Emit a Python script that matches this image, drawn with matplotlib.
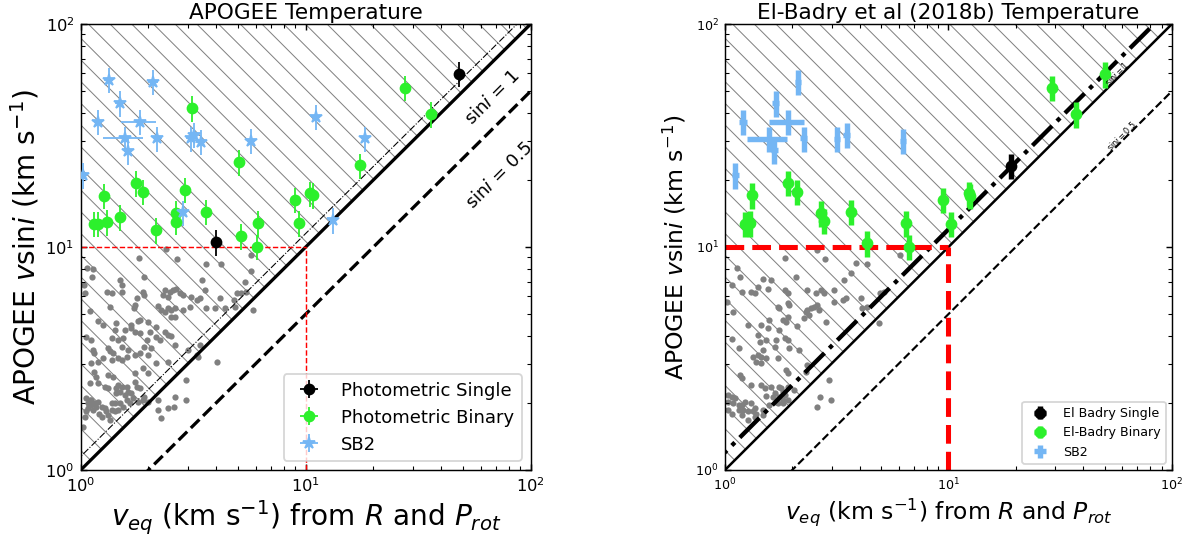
import numpy as np
import matplotlib
matplotlib.use("Agg")
import matplotlib.pyplot as plt
from matplotlib.collections import LineCollection

DPI = 130
HATCH_PX = 21.7   # spacing of the diagonal hatch lines, in pixels

# ---------------------------------------------
# Data

# APOGEE temperature panel: background sample (grey)
apo_bg_veq = [1.81, 1.07, 1.13, 1.12, 1.92, 3.62, 4.19, 5.74, 3.46, 5.36, 1.03, 1.49, 1.52, 1.31, 1.37,
              1.53, 1.04, 1.89, 1.92, 2.36, 2.49, 2.57, 2.66, 2.75, 2.85, 2.32, 2.44, 3.10, 3.27, 3.38,
              3.56, 4.15, 4.80, 4.97, 5.18, 5.45, 1.77, 1.35, 1.74, 1.73, 2.21, 2.28, 2.36, 2.44, 2.53,
              2.62, 2.85, 3.05, 3.62, 3.94, 4.37, 4.83, 5.83, 1.10, 1.83, 1.79, 1.99, 1.19, 1.44, 1.67,
              2.15, 2.53, 2.63, 1.26, 1.42, 1.57, 1.68, 1.74, 1.83, 2.03, 2.36, 2.44, 2.17, 1.96, 2.24,
              2.53, 1.37, 1.47, 1.54, 1.11, 1.06, 2.06, 2.62, 3.00, 3.38, 1.92, 1.52, 1.13, 1.15, 1.32,
              1.35, 1.39, 1.47, 1.52, 1.60, 1.74, 1.83, 1.99, 1.62, 1.37, 1.26, 1.11, 1.19, 3.27, 3.32,
              2.44, 2.17, 1.89, 1.74, 1.99, 4.05, 1.15, 1.17, 2.95, 1.32, 1.39, 1.47, 1.52, 1.60, 1.44,
              1.32, 1.28, 1.19, 1.10, 1.74, 1.77, 1.83, 1.62, 1.68, 1.57, 1.44, 1.49, 1.92, 1.89, 1.99,
              2.21, 2.62, 2.95, 1.65, 1.80, 1.06, 1.10, 1.11, 1.08, 1.11, 1.15, 1.19, 1.24, 1.28, 1.30,
              1.37, 1.42, 1.17, 1.08, 1.13, 1.21, 1.32, 1.24, 1.35, 1.04, 1.06, 1.47, 1.54, 1.02, 2.21,
              2.60, 2.27, 2.44, 1.60, 1.71, 1.49, 1.37, 1.42, 2.39, 2.68, 5.70]
apo_bg_vsini = [8.90, 8.02, 7.94, 7.36, 7.31, 8.39, 8.39, 7.83, 7.11, 6.99, 6.76, 7.11, 6.76, 6.31, 6.20,
                6.31, 6.20, 6.31, 6.09, 6.41, 6.31, 6.41, 6.46, 6.20, 6.09, 6.09, 5.95, 5.99, 5.78, 5.89,
                6.41, 5.89, 5.78, 6.24, 6.24, 6.31, 5.89, 5.40, 5.50, 5.31, 5.44, 5.22, 5.13, 5.31, 5.22,
                5.31, 5.22, 5.40, 5.31, 5.31, 5.31, 5.40, 5.22, 5.18, 4.71, 4.66, 4.62, 4.66, 4.55, 4.47,
                4.36, 4.84, 4.84, 4.47, 4.25, 4.25, 4.32, 4.17, 4.10, 4.17, 4.17, 4.03, 3.96, 3.83, 3.83,
                3.99, 3.89, 3.83, 3.89, 3.83, 3.96, 3.51, 3.64, 3.45, 3.64, 3.57, 3.57, 3.45, 3.34, 3.51,
                3.40, 3.34, 3.17, 3.11, 3.22, 3.28, 3.34, 3.28, 3.45, 3.11, 3.17, 3.01, 3.06, 3.28, 3.22,
                3.06, 3.01, 2.86, 2.71, 2.73, 3.04, 2.76, 2.62, 2.52, 2.67, 2.62, 2.40, 2.36, 2.36, 2.32,
                2.32, 2.36, 2.45, 2.45, 2.49, 2.36, 2.32, 2.24, 2.21, 2.17, 2.21, 2.24, 2.13, 2.06, 2.02,
                2.07, 2.13, 2.07, 1.99, 2.02, 2.10, 2.06, 2.07, 1.99, 1.96, 1.99, 2.02, 1.92, 1.89, 1.83,
                1.86, 1.83, 1.92, 1.89, 1.86, 1.79, 1.77, 1.73, 1.68, 1.73, 1.83, 1.86, 1.92, 1.56, 1.86,
                1.92, 1.71, 1.89, 2.06, 2.10, 1.99, 1.99, 1.99, 9.77, 8.81, 9.20]

# APOGEE temperature panel: photometric singles
apo_single_veq = [3.98, 48.2]
apo_single_vsini = [10.5, 59.7]
# APOGEE temperature panel: photometric binaries
apo_binary_veq = [3.12, 5.04, 1.76, 1.89, 1.27, 2.90, 1.15, 1.19, 1.31, 1.49, 2.15, 2.64, 2.64, 3.62,
                  5.17, 6.14, 6.08, 27.6, 36.2, 17.5, 9.0, 10.5, 10.8, 9.37]
apo_binary_vsini = [41.9, 24.0, 19.3, 17.7, 17.0, 18.1, 12.7, 12.7, 12.9, 13.6, 11.9, 14.2, 13.0, 14.4,
                    11.2, 12.8, 10.0, 51.8, 39.4, 23.2, 16.3, 17.4, 17.1, 12.8]
# APOGEE temperature panel: SB2
apo_sb2_veq = [1.02, 1.33, 2.10, 1.49, 1.19, 1.83, 1.58, 1.62, 2.19, 3.08, 3.19, 3.41, 5.73, 2.85,
               11.1, 18.4, 13.2]
apo_sb2_vsini = [21.0, 56.1, 55.1, 44.1, 36.5, 36.5, 30.7, 26.9, 30.7, 30.7, 31.8, 29.7, 30.0, 14.3,
                 38.4, 30.7, 13.2]
apo_sb2_veq_err = [0.05, 0.06, 0.1, 0.07, 0.05, 0.32, 0.32, 0.07, 0.1, 0.14, 0.15, 0.16, 0.25, 0.13,
                   0.5, 0.8, 0.6]

# El-Badry temperature panel: background sample (grey)
elb_bg_veq = [1.85, 1.13, 1.17, 1.07, 1.41, 2.08, 1.61, 1.48, 1.56, 1.31, 1.19, 1.36, 1.85, 1.91, 2.34,
              2.69, 2.55, 2.78, 3.08, 3.41, 3.65, 4.33, 3.84, 4.96, 5.13, 4.05, 4.30, 3.47, 3.08, 3.39,
              1.09, 1.02, 1.73, 1.75, 1.91, 1.94, 2.34, 2.30, 2.43, 2.51, 2.59, 2.64, 2.26, 2.38, 2.82,
              4.11, 4.87, 1.91, 1.88, 1.82, 1.58, 1.45, 1.27, 1.75, 1.56, 2.11, 1.85, 1.91, 1.69, 1.41,
              1.07, 1.53, 1.43, 1.67, 1.48, 1.41, 1.45, 1.34, 1.38, 1.45, 1.53, 1.15, 1.94, 2.15, 1.73,
              2.34, 2.30, 1.88, 1.91, 1.17, 1.19, 1.31, 1.45, 1.51, 1.61, 1.75, 1.78, 1.82, 1.91, 1.67,
              1.85, 1.53, 2.04, 2.92, 2.67, 2.99, 2.59, 1.03, 1.07, 1.11, 1.03, 1.09, 1.15, 1.19, 1.21,
              1.27, 1.34, 1.36, 1.48, 1.58, 1.75, 1.69, 1.82, 1.91, 1.64, 1.23, 1.31, 1.15, 1.03, 1.07,
              1.19, 1.36, 1.27, 1.38, 1.48, 1.73, 1.82, 2.59, 2.80, 6.08]
elb_bg_vsini = [8.90, 8.02, 7.36, 6.76, 6.64, 7.36, 7.11, 7.16, 6.46, 6.31, 6.31, 6.20, 6.41, 6.24, 6.41,
                6.41, 6.20, 6.20, 6.41, 7.11, 7.62, 8.39, 8.45, 6.24, 6.31, 5.89, 5.40, 5.89, 5.69, 5.78,
                5.13, 5.69, 5.40, 5.31, 5.59, 5.50, 5.22, 5.13, 5.31, 5.40, 5.50, 5.22, 4.79, 4.96, 4.62,
                5.31, 4.55, 4.87, 4.62, 4.71, 4.71, 4.47, 4.47, 4.25, 4.32, 4.40, 3.89, 3.83, 3.83, 4.03,
                3.85, 3.83, 3.76, 3.57, 3.45, 3.28, 3.22, 3.22, 3.06, 3.01, 3.17, 3.51, 3.51, 3.45, 3.17,
                2.96, 2.76, 2.81, 2.71, 2.67, 2.58, 2.40, 2.40, 2.32, 2.36, 2.36, 2.32, 2.24, 2.36, 2.21,
                2.17, 2.15, 2.28, 2.53, 2.13, 2.05, 1.92, 2.17, 2.13, 2.10, 2.02, 1.99, 1.96, 1.96, 1.86,
                1.83, 1.83, 1.89, 1.86, 1.96, 2.13, 2.02, 1.99, 2.06, 2.13, 2.02, 1.99, 1.86, 1.86, 1.79,
                1.77, 1.73, 1.68, 1.79, 1.77, 1.99, 2.06, 9.70, 8.81, 9.20]

# El-Badry temperature panel: singles
elb_single_veq = [19.0]
elb_single_vsini = [23.1]
# El-Badry temperature panel: binaries
elb_binary_veq = [1.91, 2.10, 1.32, 1.23, 1.30, 2.69, 2.76, 3.68, 4.30, 6.46, 6.69, 9.47, 10.3, 12.3,
                  12.5, 29.0, 37.4, 50.4]
elb_binary_vsini = [19.4, 17.7, 17.1, 12.7, 12.8, 14.2, 13.1, 14.4, 10.4, 12.8, 10.0, 16.3, 12.7, 17.4,
                    17.0, 51.8, 39.4, 59.5]
# El-Badry temperature panel: SB2
elb_sb2_veq = [1.11, 1.20, 1.69, 2.12, 1.91, 1.57, 1.66, 2.25, 3.18, 3.50, 6.29]
elb_sb2_vsini = [21.0, 36.5, 44.1, 55.1, 36.5, 30.5, 27.2, 30.7, 30.5, 31.8, 30.0]
elb_sb2_veq_err = [0.04, 0.05, 0.06, 0.07, 0.34, 0.32, 0.06, 0.08, 0.1, 0.12, 0.2]

# relative vsini uncertainty (as drawn)
vsini_frac_err = 0.13

GREEN = '#2cf02c'
BLUE = '#74b6f4'


def hatch_region(ax, fig, region):
    # thin grey "\\" hatch with a fixed pixel spacing, clipped to the region
    pos = ax.get_position()
    w = pos.width * fig.get_figwidth() * fig.dpi
    h = pos.height * fig.get_figheight() * fig.dpi
    segs = []
    for c in np.arange(HATCH_PX * 0.9, w + h, HATCH_PX):
        segs.append([(c / w, 0), (0, c / h)])
    lc = LineCollection(segs, colors='grey', linewidths=0.55, transform=ax.transAxes, zorder=0)
    ax.add_collection(lc)
    lc.set_clip_path(region.get_paths()[0], ax.transData)


def draw_panel(ax, fig, style, bg, single, binary, sb2, title, labels, big):
    fs_tick, fs_label, fs_title, fs_leg, fs_txt = style['fonts']
    x_ref = np.array([1, 100])

    ax.set_xscale('log')
    ax.set_yscale('log')
    ax.set_xlim(1, 100)
    ax.set_ylim(1, 100)

    # hatched region above vsini = veq
    region = ax.fill_between(x_ref, x_ref, 100, facecolor='none', edgecolor='none', zorder=0)
    hatch_region(ax, fig, region)

    ax.scatter(bg[0], bg[1], s=style['bg_s'], color='grey', zorder=1, linewidths=0)

    # reference lines
    ax.plot(x_ref, x_ref, color='k', lw=style['lw_solid'], zorder=2)
    ax.plot(x_ref, 0.5 * x_ref, color='k', ls='--', lw=style['lw_dash'], zorder=2)
    ax.plot(x_ref / style['tol'], x_ref, color='k', ls='-.', lw=style['lw_dashdot'], zorder=2)
    ax.plot([1, 10], [10, 10], color='red', ls='--', lw=style['lw_red'], zorder=2)
    ax.plot([10, 10], [1, 10], color='red', ls='--', lw=style['lw_red'], zorder=2)

    elw = style['elw']
    ax.errorbar(single[0], single[1], yerr=vsini_frac_err * np.array(single[1]),
                xerr=0.03 * np.array(single[0]), fmt='o', color='k', ms=style['ms'],
                elinewidth=elw, capsize=0, label=labels[0], zorder=4)
    ax.errorbar(binary[0], binary[1], yerr=vsini_frac_err * np.array(binary[1]),
                xerr=0.03 * np.array(binary[0]), fmt='o', color=GREEN, ms=style['ms'],
                elinewidth=elw, capsize=0, label=labels[1], zorder=3)
    ax.errorbar(sb2[0], sb2[1], yerr=vsini_frac_err * np.array(sb2[1]), xerr=sb2[2],
                fmt=style['sb2_fmt'], color=BLUE, ms=style['ms_star'],
                elinewidth=elw, capsize=0, label=labels[2], zorder=3)

    ax.text(*style['txt1'], r'sin$i$ = 1' if big else r'sin$i=1$', transform=ax.transAxes,
            rotation=45, fontsize=fs_txt, ha='center', va='center')
    ax.text(*style['txt2'], r'sin$i$ = 0.5' if big else r'sin$i=0.5$', transform=ax.transAxes,
            rotation=45, fontsize=fs_txt, ha='center', va='center')

    ax.tick_params(which='both', direction='in', top=True, right=True, labelsize=fs_tick)
    ax.set_title(title, fontsize=fs_title, pad=3)
    ax.set_xlabel(r'$v_{eq}$ (km s$^{-1}$) from $R$ and $P_{rot}$', fontsize=fs_label, labelpad=2)
    ax.set_ylabel(r'APOGEE $v$sin$i$ (km s$^{-1}$)', fontsize=fs_label, labelpad=style['ypad'])
    ax.legend(loc='lower right', fontsize=fs_leg, framealpha=0.8)


fig = plt.figure(figsize=(1191 / DPI, 537 / DPI), dpi=DPI)
ax1 = fig.add_axes([0.0678, 0.1248, 0.3778, 0.8305])
ax2 = fig.add_axes([0.6087, 0.1248, 0.3753, 0.8305])

left_style = dict(fonts=(9, 15.5, 12, 10, 10), bg_s=12, lw_solid=1.8, lw_dash=1.8, lw_dashdot=0.6,
                  lw_red=0.8, tol=1.15, elw=1.0, ms=5.5, ms_star=7, sb2_fmt='*', ypad=2,
                  txt1=(0.915, 0.835), txt2=(0.93, 0.66))
right_style = dict(fonts=(7, 13, 12, 7, 4.5), bg_s=12, lw_solid=1.4, lw_dash=1.2, lw_dashdot=2.4,
                   lw_red=2.8, tol=1.2, elw=3.0, ms=5.5, ms_star=0, sb2_fmt='none', ypad=4,
                   txt1=(0.877, 0.89), txt2=(0.888, 0.75))

draw_panel(ax1, fig, left_style, (apo_bg_veq, apo_bg_vsini), (apo_single_veq, apo_single_vsini),
           (apo_binary_veq, apo_binary_vsini), (apo_sb2_veq, apo_sb2_vsini, apo_sb2_veq_err),
           'APOGEE Temperature', ['Photometric Single', 'Photometric Binary', 'SB2'], True)
draw_panel(ax2, fig, right_style, (elb_bg_veq, elb_bg_vsini), (elb_single_veq, elb_single_vsini),
           (elb_binary_veq, elb_binary_vsini), (elb_sb2_veq, elb_sb2_vsini, elb_sb2_veq_err),
           'El-Badry et al (2018b) Temperature', ['El Badry Single', 'El-Badry Binary', 'SB2'], False)

fig.savefig('out.png', dpi=DPI)
